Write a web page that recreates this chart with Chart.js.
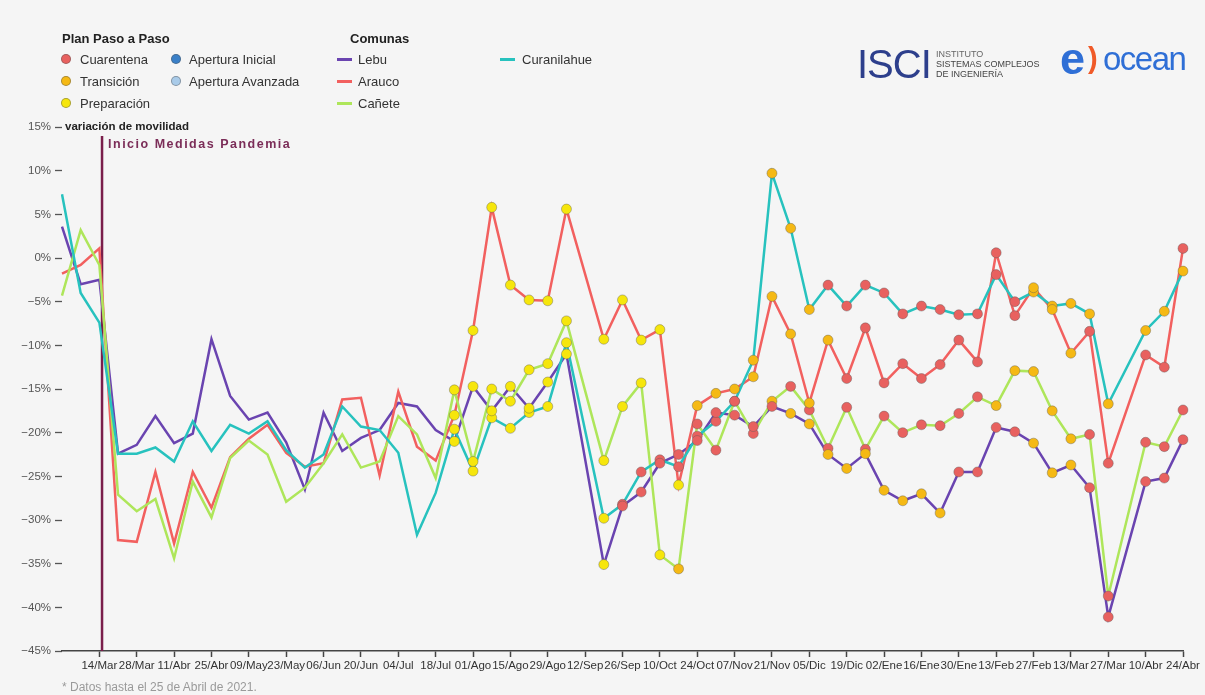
<!DOCTYPE html>
<html>
<head>
<meta charset="utf-8">
<title>Variación de movilidad</title>
<script src="https://cdn.jsdelivr.net/npm/chart.js@4.4.1/dist/chart.umd.min.js"></script>
<style>
  body { margin: 0; background: #f5f5f5; font-family: Arial, 'Liberation Sans', sans-serif; }
  #wrap { position: relative; width: 1205px; height: 695px; overflow: hidden; }
  #chart { position: absolute; left: 0; top: 0; }
  .t { position: absolute; white-space: nowrap; line-height: 1; }
  .title { font-weight: bold; font-size: 13px; color: #222; }
  .item { font-size: 13px; color: #333; }
  .dot { position: absolute; width: 10px; height: 10px; border-radius: 50%; box-sizing: border-box; border: 1px solid rgba(80,80,80,0.45); }
  .bar { position: absolute; width: 15px; height: 3px; }
</style>
</head>
<body>
<div id="wrap">
  <canvas id="chart" width="1205" height="695"></canvas>

  <div class="t title" style="left:62px;top:32px">Plan Paso a Paso</div>
  <div class="dot" style="left:61px;top:54px;background:#e8615f"></div>
  <div class="t item" style="left:80px;top:53px">Cuarentena</div>
  <div class="dot" style="left:61px;top:76px;background:#f5b914"></div>
  <div class="t item" style="left:80px;top:75px">Transición</div>
  <div class="dot" style="left:61px;top:98px;background:#f6e60c"></div>
  <div class="t item" style="left:80px;top:97px">Preparación</div>
  <div class="dot" style="left:171px;top:54px;background:#3a80c8"></div>
  <div class="t item" style="left:189px;top:53px">Apertura Inicial</div>
  <div class="dot" style="left:171px;top:76px;background:#a9cbe9"></div>
  <div class="t item" style="left:189px;top:75px">Apertura Avanzada</div>

  <div class="t title" style="left:350px;top:32px">Comunas</div>
  <div class="bar" style="left:337px;top:58px;background:#6a44b0"></div>
  <div class="t item" style="left:358px;top:53px">Lebu</div>
  <div class="bar" style="left:337px;top:80px;background:#f2605f"></div>
  <div class="t item" style="left:358px;top:75px">Arauco</div>
  <div class="bar" style="left:337px;top:102px;background:#aee65a"></div>
  <div class="t item" style="left:358px;top:97px">Cañete</div>
  <div class="bar" style="left:500px;top:58px;background:#27c2be"></div>
  <div class="t item" style="left:522px;top:53px">Curanilahue</div>

  <div class="t" style="left:857px;top:44px;font-size:40px;color:#2d3f8c;letter-spacing:-1px">ISCI</div>
  <div class="t" style="left:936px;top:49px;font-size:9px;color:#666;line-height:10px">INSTITUTO<br><span style="color:#444">SISTEMAS COMPLEJOS<br>DE INGENIERÍA</span></div>
  <div class="t" style="left:1060px;top:36px;font-size:45px;font-weight:bold;color:#2f6fd6">e</div>
  <div class="t" style="left:1088px;top:44px;font-size:29px;font-weight:bold;color:#f05a28">)</div>
  <div class="t" style="left:1103px;top:42px;font-size:33px;color:#2f6fd6;letter-spacing:-1.5px">ocean</div>

  <div class="t" style="left:65px;top:121px;font-size:11.5px;font-weight:bold;color:#222">variación de movilidad</div>
  <div class="t" style="left:62px;top:681px;font-size:12px;color:#9a9a9a">* Datos hasta el 25 de Abril de 2021.</div>
</div>

<script>
const labels = ['29/Feb', '07/Mar', '14/Mar', '21/Mar', '28/Mar', '04/Abr', '11/Abr', '18/Abr', '25/Abr', '02/May',
    '09/May', '16/May', '23/May', '30/May', '06/Jun', '13/Jun', '20/Jun', '27/Jun', '04/Jul', '11/Jul',
    '18/Jul', '25/Jul', '01/Ago', '08/Ago', '15/Ago', '22/Ago', '29/Ago', '05/Sep', '12/Sep', '19/Sep',
    '26/Sep', '03/Oct', '10/Oct', '17/Oct', '24/Oct', '31/Oct', '07/Nov', '14/Nov', '21/Nov', '28/Nov',
    '05/Dic', '12/Dic', '19/Dic', '26/Dic', '02/Ene', '09/Ene', '16/Ene', '23/Ene', '30/Ene', '06/Feb',
    '13/Feb', '20/Feb', '27/Feb', '06/Mar', '13/Mar', '20/Mar', '27/Mar', '03/Abr', '10/Abr', '17/Abr',
    '24/Abr']

// variación de movilidad (%), una semana por valor; null = sin dato
const lebu = [3.6, -3.0, -2.5, -22.4, -21.4, -18.1, -21.2, -20.1, -9.3, -15.8,
    -18.5, -17.7, -21.1, -26.5, -17.7, -22.1, -20.6, -19.7, -16.6, -17.0,
    -19.7, -21.0, -14.7, -17.5, -14.7, -17.2, -14.2, -11.0, null, -35.1,
    -28.4, -26.8, -23.5, -22.5, -20.9, -17.7, -18.0, -19.3, -17.0, -17.8,
    -19.0, -22.5, -24.1, -22.4, -26.6, -27.8, -27.0, -29.2, -24.5, -24.5,
    -19.4, -19.9, -21.2, -24.6, -23.7, -26.3, -41.1, null, -25.6, -25.2,
    -20.8]
const arauco = [-1.8, -0.8, 1.1, -32.3, -32.5, -24.5, -32.7, -24.5, -28.6, -22.8,
    -20.7, -19.1, -22.3, -23.9, -23.5, -16.2, -16.0, -24.9, -15.3, -21.6,
    -23.2, -18.0, -8.3, 5.8, -3.1, -4.8, -4.9, 5.6, null, -9.3,
    -4.8, -9.4, -8.2, -26.0, -16.9, -15.5, -15.0, -13.6, -4.4, -8.7,
    -16.6, -9.4, -13.8, -8.0, -14.3, -12.1, -13.8, -12.2, -9.4, -11.9,
    0.6, -6.6, -3.4, -5.9, -10.9, -8.4, -23.5, null, -11.1, -12.5,
    1.1]
const canete = [-4.3, 3.2, -0.8, -27.1, -29.0, -27.6, -34.4, -25.6, -29.7, -22.9,
    -20.9, -22.5, -27.9, -26.3, -23.5, -20.2, -24.0, -23.3, -18.1, -20.2,
    -25.2, -15.1, -23.3, -15.0, -16.4, -12.8, -12.1, -7.2, null, -23.2,
    -17.0, -14.3, -34.0, -35.6, -19.0, -22.0, -16.4, -20.1, -16.4, -14.7,
    -17.4, -21.8, -17.1, -21.9, -18.1, -20.0, -19.1, -19.2, -17.8, -15.9,
    -16.9, -12.9, -13.0, -17.5, -20.7, -20.2, -38.7, null, -21.1, -21.6,
    -17.4]
const curanilahue = [7.3, -4.0, -7.4, -22.4, -22.4, -21.7, -23.3, -18.7, -22.1, -19.1,
    -20.1, -18.7, -22.0, -24.0, -22.5, -17.0, -19.3, -19.7, -22.3, -31.7,
    -26.9, -19.6, -24.4, -18.3, -19.5, -17.7, -17.0, -9.7, null, -29.8,
    -28.2, -24.5, -23.1, -23.9, -20.4, -18.7, -16.4, -11.7, 9.7, 3.4,
    -5.9, -3.1, -5.5, -3.1, -4.0, -6.4, -5.5, -5.9, -6.5, -6.4,
    -1.9, -5.0, -3.9, -5.5, -5.2, -6.4, -16.7, null, -8.3, -6.1,
    -1.5]

// fase del Plan Paso a Paso por semana: C cuarentena, T transición, P preparación, - sin fase
const faseLebu = ('---------------------' + 'PPPPPPP-P' + 'CCCCCCCCC' + 'TTTTTTTTT' + 'CCCC' + 'TTT' + 'CC-CCC').split('')
const faseArauco = ('---------------------' + 'PPPPPPP-PPPPP' + 'TTTTTTTT' + 'CCCCCCCCCC' + 'TTT' + 'CC-CCC').split('')
const faseCanete = ('---------------------' + 'PPPPPPP-PPPP' + 'T' + 'CCCC' + 'T' + 'CCCCCCCCCCC' + 'TTTTT' + 'CC-CCC').split('')
const faseCuranilahue = ('---------------------' + 'PPPPPPP-P' + 'CCCCCCC' + 'TTTT' + 'CCCCCCCCCCC' + 'TTTTT' + '-TTT').split('')

const inicioMedidas = 2 + 1 / 7 // 15/Mar

const faseColor = { C: '#e8615f', T: '#f5b914', P: '#f6e60c' }
const comunas = [
    { label: 'Lebu', data: lebu, fase: faseLebu, color: '#6a44b0' },
    { label: 'Arauco', data: arauco, fase: faseArauco, color: '#f2605f' },
    { label: 'Cañete', data: canete, fase: faseCanete, color: '#aee65a' },
    { label: 'Curanilahue', data: curanilahue, fase: faseCuranilahue, color: '#27c2be' },
]
const font = "Arial, 'Liberation Sans', sans-serif"

const datasets = []
comunas.forEach((c, i) => {
    datasets.push({
        label: c.label,
        data: c.data,
        borderColor: c.color,
        borderWidth: 2.5,
        pointRadius: 0,
        tension: 0,
        spanGaps: true,
        fill: false,
        order: 10 - i, // later comunas on top
    })
})
comunas.forEach(c => {
    datasets.push({
        label: c.label + ' fase',
        data: c.data.map((v, i) => (c.fase[i] === '-' ? null : v)),
        showLine: false,
        pointRadius: 5,
        pointBorderWidth: 0.8,
        pointBorderColor: 'rgba(90,90,90,0.5)',
        pointBackgroundColor: c.fase.map(f => faseColor[f] || 'transparent'),
        order: 0, // points over all lines
    })
})

const showTick = i => i >= 2 && i % 2 === 0

const lineaInicio = {
    id: 'lineaInicio',
    beforeDatasetsDraw(chart) {
        const { ctx, chartArea, scales } = chart
        const px = scales.x.getPixelForValue(inicioMedidas)
        ctx.save()
        ctx.strokeStyle = '#7a1e4b'
        ctx.lineWidth = 2.5
        ctx.beginPath()
        ctx.moveTo(px, chartArea.top + 9)
        ctx.lineTo(px, chartArea.bottom)
        ctx.stroke()
        ctx.fillStyle = '#7b2d58'
        ctx.font = 'bold 12.5px ' + font
        ctx.letterSpacing = '1.5px'
        ctx.textBaseline = 'middle'
        ctx.fillText('Inicio Medidas Pandemia', px + 6, chartArea.top + 18)
        ctx.restore()
    },
}

const chart = new Chart('chart', {
    type: 'line',
    data: { labels, datasets },
    plugins: [lineaInicio],
    options: {
        responsive: false,
        animation: false,
        layout: { padding: { top: 127, right: 22, left: 0, bottom: 0 } },
        plugins: {
            legend: { display: false },
            tooltip: { enabled: false },
        },
        scales: {
            x: {
                type: 'category',
                offset: false,
                border: { display: true, color: '#444', width: 1.5 },
                grid: {
                    drawOnChartArea: false,
                    drawTicks: true,
                    tickLength: 6,
                    tickWidth: 1.5,
                    tickColor: ctx => (showTick(ctx.index) ? '#444' : 'rgba(0,0,0,0)'),
                },
                ticks: {
                    autoSkip: false,
                    maxRotation: 0,
                    minRotation: 0,
                    padding: 2,
                    color: '#333',
                    font: { size: 11.5, family: font },
                    callback: (v, i) => (showTick(i) ? labels[i] : ''),
                },
                afterFit: s => { s.height = 44 },
            },
            y: {
                min: -45,
                max: 15,
                border: { display: false },
                grid: { drawOnChartArea: false, drawTicks: true, tickLength: 7, tickWidth: 1.3, tickColor: '#555' },
                ticks: {
                    stepSize: 5,
                    padding: 4,
                    color: '#555',
                    font: { size: 11.5, family: font },
                    callback: v => (v < 0 ? '−' + -v : v) + '%',
                },
                afterFit: s => { s.width = 62 },
            },
        },
    },
})
</script>
</body>
</html>
